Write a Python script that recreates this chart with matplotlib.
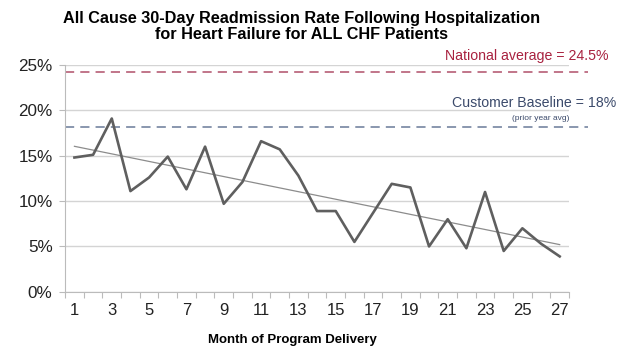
import matplotlib.pyplot as plt
import numpy as np

plt.rcParams['font.family'] = ['Liberation Sans', 'DejaVu Sans']

months = np.arange(1, 28)
rates = [14.8, 15.1, 19.1, 11.1, 12.6, 14.9, 11.3, 16.0, 9.7, 12.1,
         16.6, 15.7, 12.8, 8.9, 8.9, 5.5, 8.7, 11.9, 11.5, 5.0,
         8.0, 4.8, 11.0, 4.5, 7.0, 5.3, 3.9]
national_avg = 24.25
baseline = 18.2
yticks = [0, 5, 10, 15, 20, 25]
xtick_labels = [str(m) for m in range(1, 28, 2)]

fig = plt.figure(figsize=(6.26, 3.55), dpi=100)
ax = fig.add_axes([0.104, 0.178, 0.805, 0.639])

ax.plot(months, rates, color='#5f5f5f', lw=1.9, zorder=4)

# linear trend
k, b = np.polyfit(months, rates, 1)
ax.plot(months, k * months + b, color='#8c8c8c', lw=0.9, zorder=3)

ax.plot([0.5, 28.5], [national_avg, national_avg], color='#b0506a', lw=1.1,
        dashes=(6, 4), clip_on=False, zorder=2)
ax.plot([0.5, 28.5], [baseline, baseline], color='#6a7a98', lw=1.1,
        dashes=(6, 4), clip_on=False, zorder=2)

ax.set_xlim(0.5, 27.5)
ax.set_ylim(0, 25)
ax.set_yticks(yticks)
ax.set_yticklabels([f'{v}%' for v in yticks], fontsize=12.3, color='#222222')
ax.set_xticks(np.arange(0.5, 28, 1))
ax.set_xticklabels([])
ax.set_xticks(range(1, 28, 2), minor=True)
ax.set_xticklabels(xtick_labels, minor=True, fontsize=12, color='#222222')
ax.tick_params(axis='x', which='major', length=4, color='#bbbbbb', direction='out')
ax.tick_params(axis='x', which='minor', length=0, pad=8)
ax.tick_params(axis='y', length=4, color='#bbbbbb', pad=5)
ax.grid(axis='y', color='#d4d4d4', lw=1)
ax.set_axisbelow(True)
for s in ['top', 'right']:
    ax.spines[s].set_visible(False)
for s in ['left', 'bottom']:
    ax.spines[s].set_color('#bbbbbb')

fig.text(0.481, 0.97, 'All Cause 30-Day Readmission Rate Following Hospitalization\n'
         'for Heart Failure for ALL CHF Patients', ha='center', va='top',
         fontsize=11.7, fontweight='bold', linespacing=1.1)
fig.text(0.467, 0.042, 'Month of Program Delivery', ha='center', va='center',
         fontsize=9.5, fontweight='bold')
fig.text(0.972, 0.842, 'National average = 24.5%', ha='right', va='center',
         fontsize=10.2, color='#a8213f')
fig.text(0.985, 0.71, 'Customer Baseline = 18%', ha='right', va='center',
         fontsize=10.2, color='#3b4a6b')
fig.text(0.91, 0.667, '(prior year avg)', ha='right', va='center',
         fontsize=6, color='#3b4a6b')

fig.savefig('out.png', dpi=100)
